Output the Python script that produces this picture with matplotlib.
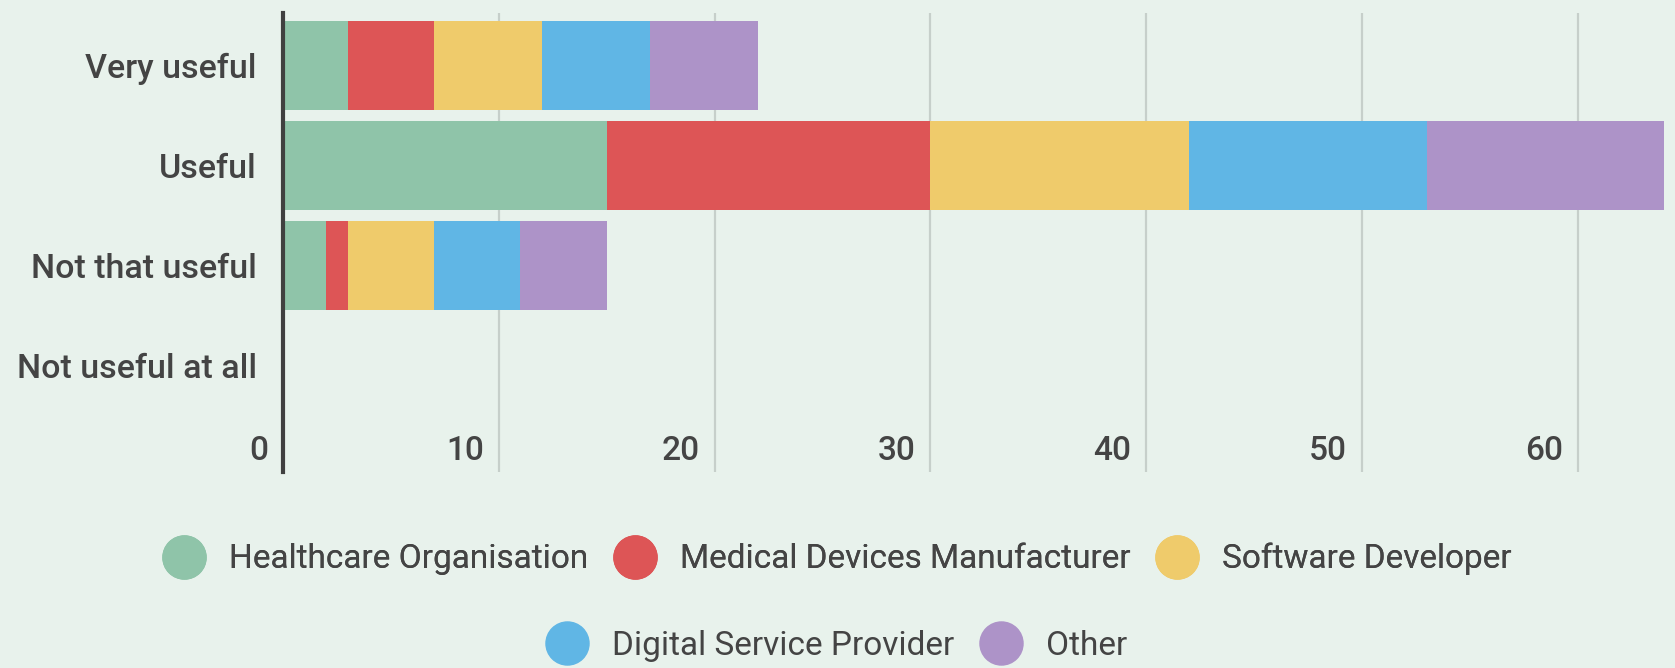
import matplotlib
matplotlib.use("Agg")
import matplotlib.pyplot as plt
from matplotlib.lines import Line2D
from matplotlib.transforms import offset_copy

# Data
categories = ["Very useful", "Useful", "Not that useful", "Not useful at all"]
series_names = ["Healthcare Organisation", "Medical Devices Manufacturer",
                "Software Developer", "Digital Service Provider", "Other"]
healthcare = [3, 15, 2, 0]
medical = [4, 15, 1, 0]
software = [5, 12, 4, 0]
digital = [5, 11, 4, 0]
other = [5, 11, 4, 0]
x_ticks = [0, 10, 20, 30, 40, 50, 60]

colors = ["#8fc4a9", "#dd5556", "#efcb6b", "#60b6e5", "#ad93c8"]
bg = "#e8f2ec"
text_col = "#444444"

plt.rcParams['font.family'] = ['Roboto', 'DejaVu Sans']

fig = plt.figure(figsize=(16.75, 6.68), dpi=100, facecolor=bg)
ax = fig.add_axes([0.169, 0.2934, 0.831, 0.6871])
ax.set_facecolor(bg)

series = [healthcare, medical, software, digital, other]
y = list(range(len(categories)))
left = [0] * len(categories)
for vals, name, col in zip(series, series_names, colors):
    ax.barh(y, vals, left=left, height=0.89, color=col, label=name, zorder=3)
    left = [a + b for a, b in zip(left, vals)]

ax.set_xlim(0, 64.5)
ax.set_ylim(4.07, -0.525)

# grid and spines
ax.set_xticks(x_ticks)
ax.set_xticklabels([])
ax.grid(axis='x', color="#c6cfca", linewidth=1.6, zorder=0)
ax.tick_params(axis='x', length=0)
for s in ["top", "right", "bottom"]:
    ax.spines[s].set_visible(False)
ax.spines["left"].set_color("#404040")
ax.spines["left"].set_linewidth(3)
ax.spines["left"].set_zorder(5)

ax.set_yticks(y)
ax.set_yticklabels(categories, fontsize=24.5, color=text_col, fontweight='medium')
ax.tick_params(axis='y', length=0, pad=19)

# value labels sit inside the plot, left of each grid line
trans = offset_copy(ax.transData, fig=fig, x=-15, y=0, units='dots')
for t in x_ticks:
    ax.text(t, 3.855, str(t), transform=trans, ha='right', va='center',
            fontsize=24, color=text_col, fontweight='medium')

handles = [Line2D([], [], marker='o', linestyle='none', markersize=31,
                  markerfacecolor=c, markeredgecolor=c) for c in colors]
leg_kw = dict(frameon=False, handletextpad=0.75, columnspacing=0.8,
              handlelength=1.2, labelcolor=text_col,
              prop={'family': ['Roboto', 'DejaVu Sans'], 'size': 24})
leg1 = fig.legend(handles[:3], series_names[:3], ncol=3, loc='center',
                  bbox_to_anchor=(0.5, 1 - 559 / 668), **leg_kw)
fig.add_artist(leg1)
fig.legend(handles[3:], series_names[3:], ncol=2, loc='center',
           bbox_to_anchor=(0.5, 1 - 646 / 668), **leg_kw)

fig.savefig("out.png", dpi=100, facecolor=bg)
